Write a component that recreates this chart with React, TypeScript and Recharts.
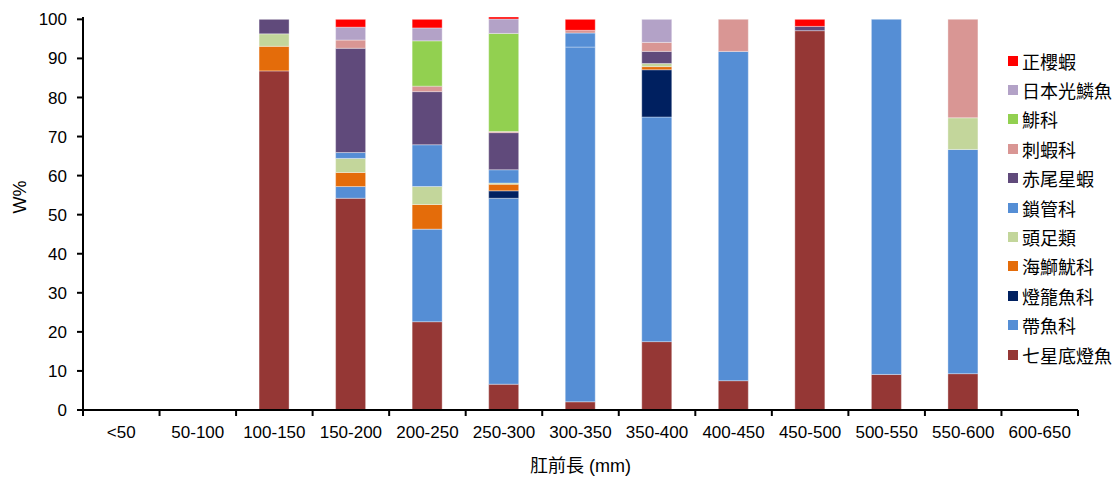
import { Bar, BarChart, Legend, XAxis, YAxis } from "recharts";

const categories = ["<50", "50-100", "100-150", "150-200", "200-250", "250-300", "300-350", "350-400", "400-450", "450-500", "500-550", "550-600", "600-650"];

// bottom -> top of each stack
const qixing = [0, 0, 86.8, 54.2, 22.6, 6.6, 2.1, 17.5, 7.5, 97.1, 9.1, 9.3, 0];
const daiyu = [0, 0, 0, 3.0, 23.7, 47.6, 90.8, 57.5, 84.3, 0, 90.9, 57.4, 0];
const denglong = [0, 0, 0, 0, 0, 1.9, 0, 12.1, 0, 0, 0, 0, 0];
const haishi = [0, 0, 6.3, 3.6, 6.3, 1.7, 0, 0.8, 0, 0, 0, 0, 0];
const touzu = [0, 0, 3.2, 3.6, 4.6, 0.3, 0, 0.8, 0, 0, 0, 8.1, 0];
const suoguan = [0, 0, 0, 1.5, 10.7, 3.4, 3.6, 0, 0, 0, 0, 0, 0];
const chiwei = [0, 0, 3.7, 26.7, 13.6, 9.5, 0, 3.1, 0, 1.1, 0, 0, 0];
const cixia = [0, 0, 0, 2.1, 1.4, 0.3, 0.7, 2.3, 8.2, 0, 0, 25.2, 0];
const fei = [0, 0, 0, 0, 11.6, 25.1, 0, 0, 0, 0, 0, 0, 0];
const riben = [0, 0, 0, 3.3, 3.3, 3.7, 0, 5.9, 0, 0, 0, 0, 0];
const zhengying = [0, 0, 0, 2.0, 2.2, 0.5, 2.8, 0, 0, 1.8, 0, 0, 0];

const yTicks = [0, 10, 20, 30, 40, 50, 60, 70, 80, 90, 100];

const series = [
  { key: "qixing", name: "七星底燈魚", color: "#953735", values: qixing },
  { key: "daiyu", name: "帶魚科", color: "#558ED5", values: daiyu },
  { key: "denglong", name: "燈籠魚科", color: "#002060", values: denglong },
  { key: "haishi", name: "海鰤魷科", color: "#E46C0A", values: haishi },
  { key: "touzu", name: "頭足類", color: "#C3D69B", values: touzu },
  { key: "suoguan", name: "鎖管科", color: "#558ED5", values: suoguan },
  { key: "chiwei", name: "赤尾星蝦", color: "#604A7B", values: chiwei },
  { key: "cixia", name: "刺蝦科", color: "#D99694", values: cixia },
  { key: "fei", name: "鯡科", color: "#92D050", values: fei },
  { key: "riben", name: "日本光鱗魚", color: "#B3A2C7", values: riben },
  { key: "zhengying", name: "正櫻蝦", color: "#FF0000", values: zhengying },
];

const data = categories.map((c, i) => {
  const row: Record<string, string | number> = { cat: c };
  series.forEach((s) => { row[s.key] = s.values[i]; });
  return row;
});

const W = 1117;
const H = 478;
const M = { top: 17, right: 39, left: 0, bottom: 0 };
const Y_W = 83;
const X_H = 68;
const half = (W - M.left - M.right - Y_W) / categories.length / 2;
const FONT = "'Liberation Sans', Arial, 'Noto Sans CJK TC', sans-serif";

function XTick(props: any) {
  const { x, y, payload, index } = props;
  return (
    <g>
      <line x1={x - half} x2={x - half} y1={y} y2={y + 6} stroke="#000" strokeWidth={2} />
      {index === categories.length - 1 && <line x1={x + half} x2={x + half} y1={y} y2={y + 6} stroke="#000" strokeWidth={2} />}
      <text x={x} y={y + 28} textAnchor="middle" fontSize={17} fill="#000" fontFamily={FONT}>{payload.value}</text>
    </g>
  );
}

function LegendBox() {
  return (
    <div style={{ fontFamily: FONT, fontSize: 18, color: "#000" }}>
      {[...series].reverse().map((s) => (
        <div key={s.key} style={{ display: "flex", alignItems: "center", height: 29.4 }}>
          <span style={{ width: 10, height: 10, background: s.color, marginRight: 4, display: "inline-block" }} />
          <span style={{ whiteSpace: "nowrap" }}>{s.name}</span>
        </div>
      ))}
    </div>
  );
}

export default function App() {
  return (
    <div style={{ position: "absolute", left: 0, top: 0 }}>
      <BarChart width={W} height={H} data={data} margin={M} barSize={30}>
        <XAxis dataKey="cat" height={X_H} tickSize={0} tickMargin={0} interval={0} tick={<XTick />} axisLine={{ stroke: "#000", strokeWidth: 2 }}
          label={{ value: "肛前長 (mm)", position: "insideBottom", offset: 6, fontSize: 18, fill: "#000", fontFamily: FONT }} />
        <YAxis width={Y_W} domain={[0, 100]} ticks={yTicks} interval={0} tickSize={6} tickMargin={10}
          axisLine={{ stroke: "#000", strokeWidth: 2 }} tickLine={{ stroke: "#000", strokeWidth: 2 }}
          tick={{ fontSize: 17, fill: "#000", fontFamily: FONT }}
          label={{ value: "W%", angle: -90, position: "insideLeft", offset: 20, fontSize: 18, fill: "#000", fontFamily: FONT }} />
        <Legend layout="vertical" align="center" verticalAlign="middle" content={<LegendBox />}
          wrapperStyle={{ position: "absolute", left: 1008, top: 46, width: 110 }} />
        {series.map((s) => (
          <Bar key={s.key} dataKey={s.key} name={s.name} stackId="a" fill={s.color} stroke="#ffffff" strokeOpacity={0.35} strokeWidth={1} isAnimationActive={false} />
        ))}
      </BarChart>
    </div>
  );
}
